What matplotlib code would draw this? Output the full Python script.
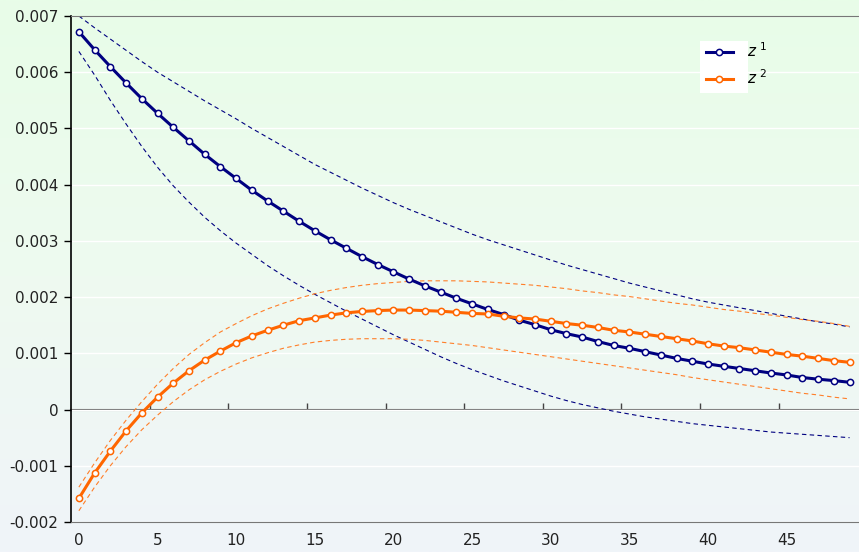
import numpy as np
import matplotlib.pyplot as plt
from matplotlib.ticker import FuncFormatter, FixedLocator
from matplotlib.colors import LinearSegmentedColormap
from matplotlib.patches import Rectangle

plt.rcParams['font.family'] = ['DejaVu Sans']
plt.rcParams['axes.unicode_minus'] = False

steps = np.arange(50)

# values in units of 1e-3
z1 = [6.72, 6.40, 6.10, 5.81, 5.53, 5.27, 5.02, 4.78, 4.54, 4.32,
      4.11, 3.90, 3.71, 3.53, 3.35, 3.18, 3.02, 2.87, 2.72, 2.58,
      2.45, 2.32, 2.20, 2.09, 1.98, 1.88, 1.78, 1.69, 1.59, 1.51,
      1.42, 1.35, 1.29, 1.21, 1.14, 1.09, 1.03, 0.97, 0.91, 0.86,
      0.81, 0.77, 0.73, 0.69, 0.65, 0.615, 0.57, 0.54, 0.515, 0.485]
z1_hi = [7.00, 6.79, 6.59, 6.39, 6.19, 6.00, 5.83, 5.66, 5.49, 5.33,
         5.17, 5.00, 4.84, 4.68, 4.52, 4.36, 4.22, 4.08, 3.94, 3.81,
         3.68, 3.56, 3.45, 3.34, 3.23, 3.12, 3.02, 2.93, 2.84, 2.75,
         2.66, 2.57, 2.49, 2.41, 2.33, 2.25, 2.18, 2.11, 2.04, 1.97,
         1.91, 1.86, 1.81, 1.76, 1.71, 1.66, 1.61, 1.56, 1.52, 1.47]
z1_lo = [6.37, 5.95, 5.50, 5.08, 4.68, 4.31, 3.98, 3.69, 3.42, 3.18,
         2.96, 2.76, 2.56, 2.38, 2.21, 2.05, 1.90, 1.75, 1.61, 1.47,
         1.33, 1.20, 1.07, 0.94, 0.82, 0.71, 0.61, 0.51, 0.42, 0.33,
         0.24, 0.16, 0.09, 0.03, -0.03, -0.08, -0.13, -0.17, -0.21, -0.25,
         -0.28, -0.31, -0.34, -0.37, -0.40, -0.42, -0.44, -0.46, -0.48, -0.50]

z2 = [-1.58, -1.13, -0.74, -0.38, -0.06, 0.22, 0.47, 0.69, 0.88, 1.04,
      1.19, 1.31, 1.41, 1.50, 1.58, 1.63, 1.68, 1.72, 1.745, 1.76,
      1.77, 1.77, 1.76, 1.75, 1.73, 1.71, 1.70, 1.66, 1.63, 1.61,
      1.57, 1.53, 1.50, 1.46, 1.41, 1.38, 1.34, 1.30, 1.26, 1.22,
      1.17, 1.13, 1.10, 1.06, 1.02, 0.98, 0.95, 0.91, 0.87, 0.84]
z2_hi = [-1.38, -0.95, -0.55, -0.19, 0.14, 0.45, 0.73, 0.98, 1.19, 1.38,
         1.53, 1.67, 1.79, 1.89, 1.98, 2.06, 2.12, 2.17, 2.21, 2.24,
         2.26, 2.28, 2.29, 2.29, 2.29, 2.28, 2.27, 2.25, 2.23, 2.21,
         2.18, 2.15, 2.11, 2.08, 2.04, 2.01, 1.97, 1.93, 1.89, 1.86,
         1.82, 1.78, 1.75, 1.71, 1.68, 1.64, 1.60, 1.57, 1.53, 1.48]
z2_lo = [-1.80, -1.38, -1.00, -0.66, -0.36, -0.10, 0.14, 0.35, 0.53, 0.68,
         0.81, 0.92, 1.01, 1.09, 1.15, 1.20, 1.23, 1.25, 1.26, 1.26,
         1.26, 1.25, 1.23, 1.20, 1.17, 1.14, 1.10, 1.06, 1.02, 0.98,
         0.94, 0.90, 0.86, 0.82, 0.78, 0.74, 0.70, 0.66, 0.62, 0.57,
         0.53, 0.49, 0.45, 0.41, 0.37, 0.33, 0.29, 0.26, 0.22, 0.19]

x_ticks = [0, 5, 10, 15, 20, 25, 30, 35, 40, 45]
y_ticks = [-0.002, -0.001, 0, 0.001, 0.002, 0.003, 0.004, 0.005, 0.006, 0.007]

navy = '#000080'
orange = '#ff6600'

fig = plt.figure(figsize=(8.59, 5.52), dpi=100)

# gradient background
bg = fig.add_axes([0, 0, 1, 1], zorder=-1)
grad = LinearSegmentedColormap.from_list('bg', ['#f0f4f9', '#eefaf0', '#e8fde8'])
bg.imshow(np.linspace(0, 1, 256).reshape(-1, 1), cmap=grad, aspect='auto',
          origin='lower', extent=[0, 1, 0, 1])
bg.axis('off')

ax = fig.add_axes([71 / 859, 1 - 522 / 552, 1 - 71 / 859, (522 - 16) / 552])
ax.set_facecolor('none')

s = 1e-3
ax.plot(steps, np.array(z1_hi) * s, color=navy, lw=0.8, dashes=(4, 3))
ax.plot(steps, np.array(z1_lo) * s, color=navy, lw=0.8, dashes=(4, 3))
ax.plot(steps, np.array(z2_hi) * s, color='#ff7f2a', lw=0.8, dashes=(4, 3))
ax.plot(steps, np.array(z2_lo) * s, color='#ff7f2a', lw=0.8, dashes=(4, 3))
ax.plot(steps, np.array(z1) * s, color=navy, lw=2.2, marker='o', ms=4.5,
        mfc='white', mec=navy, mew=1.1, label='$z^{\\ 1}$')
ax.plot(steps, np.array(z2) * s, color=orange, lw=2.2, marker='o', ms=4.5,
        mfc='white', mec=orange, mew=1.1, label='$z^{\\ 2}$')

ax.set_xlim(-0.5, 49.6)
ax.set_ylim(-0.002, 0.007)
ax.set_xticks(x_ticks)
ax.set_yticks(y_ticks)
ax.yaxis.set_major_formatter(FuncFormatter(lambda v, p: '{:g}'.format(round(v, 4))))
ax.grid(axis='y', color='white', lw=1.0)
ax.set_axisbelow(True)

for side in ['top', 'bottom']:
    ax.spines[side].set_color('#777777')
ax.spines['right'].set_visible(False)
ax.spines['left'].set_color('black')
ax.spines['left'].set_linewidth(1.2)

ax.tick_params(axis='x', length=0, pad=8, labelsize=11, labelcolor='#222222')
ax.tick_params(axis='y', length=5, width=1, direction='out', pad=4,
               labelsize=11, labelcolor='#222222')

# zero axis with ticks between categories
zero_ax = ax.secondary_xaxis(2 / 9)
zero_ax.xaxis.set_major_locator(FixedLocator([4.5, 9.5, 14.5, 19.5, 24.5, 29.5, 34.5, 39.5, 44.5]))
zero_ax.tick_params(direction='in', length=5, width=1, color='#444444', labelbottom=False)
zero_ax.spines['bottom'].set_color('#666666')
zero_ax.spines['bottom'].set_linewidth(1.5)

# white key box behind the legend handles only
ax.add_patch(Rectangle((0.798, 0.848), 0.061, 0.103, transform=ax.transAxes,
                       facecolor='white', edgecolor='none', zorder=2.5))
leg = ax.legend(loc='upper left', bbox_to_anchor=(0.806, 0.95), frameon=False,
                fontsize=11, handlelength=1.75, handletextpad=0.9,
                borderpad=0, borderaxespad=0, labelspacing=0.55)

fig.savefig('out.png', dpi=100)
